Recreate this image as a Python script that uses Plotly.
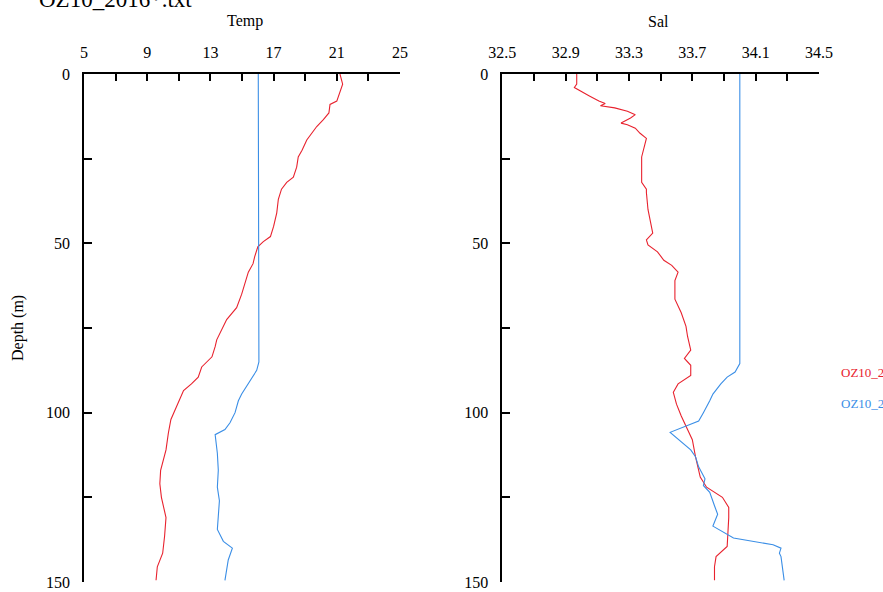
import plotly.graph_objects as go

# ---- data ----
temp_a_depth = [0, 3, 8, 9, 11.5, 13.5, 15.5, 17, 19.5, 22.5, 24.5, 27.5, 30.5, 32, 34, 37, 41, 45, 48, 49.5,
                51, 54, 56, 58.5, 65, 69, 72.5, 78.5, 80.5, 83.5, 86.5, 89.5, 91.5, 93.5, 94.5, 97.5, 100, 102,
                106, 111, 117, 121, 125, 131, 136.5, 141.5, 145.5, 149.5]
temp_a = [21.2, 21.37, 21.0, 20.57, 20.5, 20.15, 19.73, 19.5, 19.1, 18.8, 18.56, 18.46, 18.25, 17.83, 17.5, 17.3,
          17.2, 17.0, 16.8, 16.35, 16.0, 15.8, 15.7, 15.4, 14.98, 14.66, 14.03, 13.4, 13.3, 13.1, 12.45, 12.23,
          11.8, 11.3, 11.2, 10.9, 10.65, 10.5, 10.34, 10.19, 9.85, 9.8, 9.9, 10.19, 10.1, 9.98, 9.64, 9.56]

temp_b_depth = [0, 50, 85, 87.5, 90, 92, 94.5, 96.5, 100, 103, 105, 106.5, 112, 117, 122, 126, 130, 134.5,
                138, 140, 143.5, 149.5]
temp_b = [16.03, 16.05, 16.07, 15.93, 15.6, 15.3, 14.98, 14.77, 14.56, 14.24, 13.92, 13.3, 13.44, 13.5, 13.44,
          13.57, 13.5, 13.44, 13.82, 14.39, 14.13, 13.92]

sal_a_depth = [0, 3, 4, 5, 6.5, 8, 8.7, 9.4, 10, 11, 12, 13, 14.5, 15, 16, 17.5, 19, 24.5, 30.5, 32, 34, 35, 40,
               47, 49, 50.5, 52.5, 55, 56.5, 58.5, 61, 66.5, 70.5, 74.5, 77.5, 81.5, 84, 86, 89, 91.5, 94, 97.5,
               101, 105, 108, 113, 119, 122, 125, 128, 131, 139.5, 142.5, 145.5, 149.5]
sal_a = [32.97, 32.97, 32.955, 32.99, 33.05, 33.11, 33.15, 33.12, 33.21, 33.29, 33.34, 33.31, 33.25, 33.29, 33.34,
         33.37, 33.41, 33.38, 33.38, 33.38, 33.41, 33.41, 33.42, 33.45, 33.41, 33.42, 33.48, 33.52, 33.57, 33.61,
         33.59, 33.59, 33.63, 33.66, 33.67, 33.69, 33.65, 33.69, 33.69, 33.61, 33.58, 33.6, 33.63, 33.67, 33.70,
         33.72, 33.75, 33.79, 33.89, 33.93, 33.93, 33.92, 33.85, 33.84, 33.84]

sal_b_depth = [0, 85.5, 88, 89.5, 91.5, 94.5, 96.5, 98.5, 100, 102.5, 105.8, 111, 113, 116, 119.5, 121.5, 123.5,
               127.5, 130, 133.5, 137, 139, 140, 141.5, 142.5, 149.5]
sal_b = [34.0, 34.0, 33.97, 33.92, 33.88, 33.83, 33.81, 33.79, 33.77, 33.74, 33.56, 33.69, 33.72, 33.74, 33.78,
         33.77, 33.81, 33.84, 33.86, 33.83, 33.96, 34.21, 34.26, 34.25, 34.26, 34.28]

temp_ticks = [5, 7, 9, 11, 13, 15, 17, 19, 21, 23, 25]
temp_ticktext = ["5", "", "9", "", "13", "", "17", "", "21", "", "25"]
sal_ticks = [32.5, 32.7, 32.9, 33.1, 33.3, 33.5, 33.7, 33.9, 34.1, 34.3, 34.5]
sal_ticktext = ["32.5", "", "32.9", "", "33.3", "", "33.7", "", "34.1", "", "34.5"]
depth_ticks = [0, 25, 50, 75, 100, 125, 150]
depth_ticktext = ["0", "", "50", "", "100", "", "150"]

names = ["OZ10_2016_a.txt", "OZ10_2016_b.txt"]
RED = "#e8222e"
BLUE = "#3a8ee6"
FONT = "Liberation Serif"
W, H = 883, 592

fig = go.Figure()
fig.add_trace(go.Scatter(x=temp_a, y=temp_a_depth, mode="lines", line=dict(color=RED, width=1.1),
                         xaxis="x", yaxis="y", name=names[0], showlegend=False))
fig.add_trace(go.Scatter(x=temp_b, y=temp_b_depth, mode="lines", line=dict(color=BLUE, width=1.1),
                         xaxis="x", yaxis="y", name=names[1], showlegend=False))
fig.add_trace(go.Scatter(x=sal_a, y=sal_a_depth, mode="lines", line=dict(color=RED, width=1.1),
                         xaxis="x2", yaxis="y2", name=names[0], showlegend=False))
fig.add_trace(go.Scatter(x=sal_b, y=sal_b_depth, mode="lines", line=dict(color=BLUE, width=1.1),
                         xaxis="x2", yaxis="y2", name=names[1], showlegend=False))

ydom = [1 - 582 / H, 1 - 74 / H]
xcommon = dict(side="top", ticks="inside", ticklen=7, tickwidth=1.5, tickcolor="black",
               showline=True, linecolor="black", linewidth=1.5, showgrid=False, zeroline=False,
               automargin=False,
               tickfont=dict(family=FONT, size=16, color="black"), ticklabelstandoff=8)
ycommon = dict(range=[150, 0], tickvals=depth_ticks, ticktext=depth_ticktext, ticks="inside", ticklen=8,
               tickwidth=1.5, tickcolor="black", showline=True, linecolor="black", linewidth=1.5,
               showgrid=False, zeroline=False, domain=ydom, automargin=False,
               tickfont=dict(family=FONT, size=16, color="black"), ticklabelstandoff=9)

fig.update_layout(
    width=W, height=H,
    margin=dict(l=0, r=0, t=0, b=0, autoexpand=False),
    paper_bgcolor="white", plot_bgcolor="white",
    font=dict(family=FONT, color="black"),
    xaxis=dict(domain=[84 / W, 400 / W], range=[5, 25], tickvals=temp_ticks, ticktext=temp_ticktext,
               anchor="y", **xcommon),
    xaxis2=dict(domain=[502.3 / W, 819 / W], range=[32.5, 34.5], tickvals=sal_ticks, ticktext=sal_ticktext,
                anchor="y2", **xcommon),
    yaxis=dict(anchor="x", **ycommon),
    yaxis2=dict(anchor="x2", **ycommon),
    annotations=[
        dict(text="OZ10_2016*.txt", xref="paper", yref="paper", x=37 / W, y=1 - 14 / H, xanchor="left",
             yanchor="bottom", showarrow=False, font=dict(family=FONT, size=23, color="black")),
        dict(text="Temp", xref="paper", yref="paper", x=245 / W, y=1 - 21 / H, xanchor="center",
             yanchor="middle", showarrow=False, font=dict(family=FONT, size=16, color="black")),
        dict(text="Sal", xref="paper", yref="paper", x=658 / W, y=1 - 21 / H, xanchor="center",
             yanchor="middle", showarrow=False, font=dict(family=FONT, size=16, color="black")),
        dict(text="Depth (m)", xref="paper", yref="paper", x=18 / W, y=1 - 328 / H, xanchor="center",
             yanchor="middle", textangle=-90, showarrow=False, font=dict(family=FONT, size=16, color="black")),
        dict(text=names[0], xref="paper", yref="paper", x=839 / W, y=1 - 372 / H, xanchor="left",
             yanchor="middle", showarrow=False, font=dict(family=FONT, size=13, color=RED)),
        dict(text=names[1], xref="paper", yref="paper", x=839 / W, y=1 - 403 / H, xanchor="left",
             yanchor="middle", showarrow=False, font=dict(family=FONT, size=13, color=BLUE)),
    ],
)

fig.write_html("out.html")
